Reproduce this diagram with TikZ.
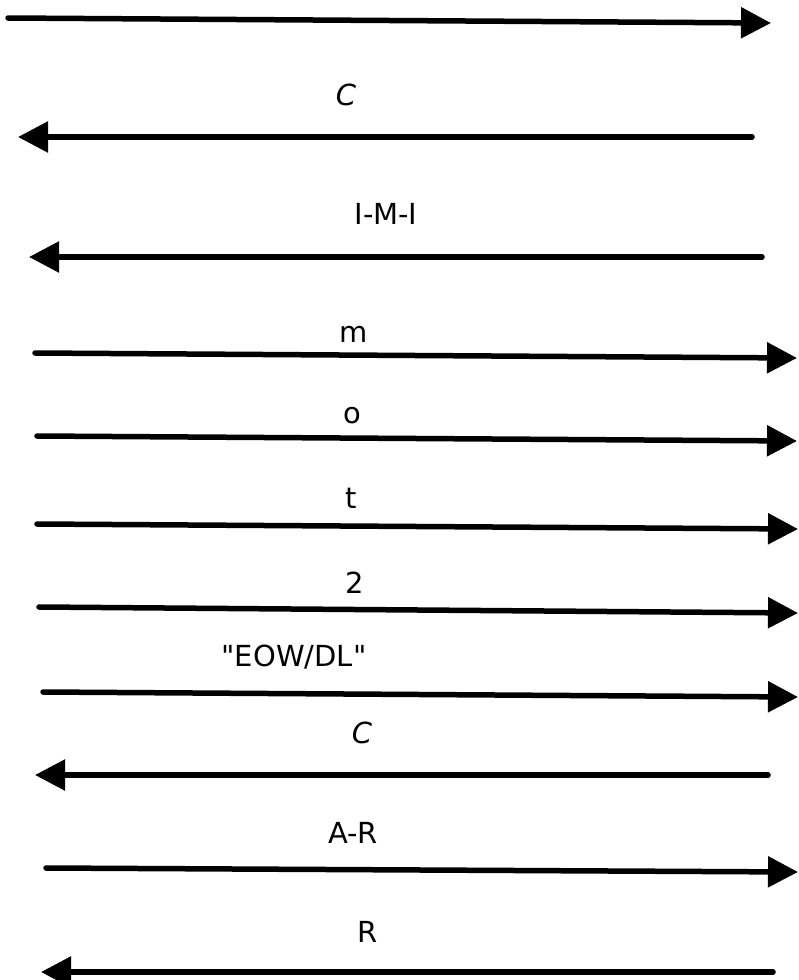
\documentclass[tikz,border=0pt]{standalone}
\usepackage{fontspec}
\setmainfont{DejaVu Sans}[Ligatures=TeXOff]
\usetikzlibrary{arrows.meta}
\tikzset{
  msg/.style={line width=5.5pt, line cap=round, -{Triangle[length=30pt,width=30pt]}},
  lbl/.style={anchor=base, inner sep=0pt, font=\fontsize{29}{34}\selectfont}
}
\begin{document}
\begin{tikzpicture}[x=1pt,y=-1pt]
\useasboundingbox[fill=white] (0,0) rectangle (799,980);
% endpoints
\coordinate (s1) at (8,18);    \coordinate (e1) at (771,23);
\coordinate (s2) at (752,137); \coordinate (e2) at (18,137);
\coordinate (s3) at (762,257); \coordinate (e3) at (29,257);
\coordinate (s4) at (35,353);  \coordinate (e4) at (797,358);
\coordinate (s5) at (37,436);  \coordinate (e5) at (797,441);
\coordinate (s6) at (37,524);  \coordinate (e6) at (798,529);
\coordinate (s7) at (39,607);  \coordinate (e7) at (798,613);
\coordinate (s8) at (43,692);  \coordinate (e8) at (798,697);
\coordinate (s9) at (768,775); \coordinate (e9) at (35,775);
\coordinate (s10) at (46,868); \coordinate (e10) at (798,872);
\coordinate (s11) at (773,972);\coordinate (e11) at (41,972);
% labels
\node[lbl] (l2) at (346,105) {\itshape C};
\node[lbl] (l3) at (386,224) {I-M-I};
\node[lbl] (l4) at (354,342) {m};
\node[lbl] (l5) at (352,423) {o};
\node[lbl] (l6) at (351,508) {t};
\node[lbl] (l7) at (355,593) {2};
\node[lbl] (l8) at (294,666) {"EOW/DL"};
\node[lbl] (l9) at (362,743) {\itshape C};
\node[lbl] (l10) at (353,843) {A-R};
\node[lbl] (l11) at (368,942) {R};
% arrows
\foreach \i in {1,...,11} \draw[msg] (s\i) -- (e\i);
\end{tikzpicture}
\end{document}
